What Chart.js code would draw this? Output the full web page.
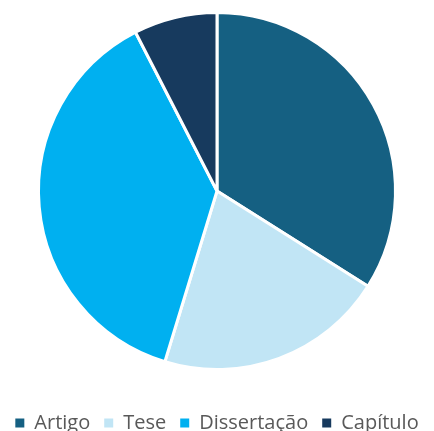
<!DOCTYPE html>
<html>
<head>
<meta charset="utf-8">
<script src="https://cdn.jsdelivr.net/npm/chart.js@4"></script>
<style>
  html, body { margin: 0; padding: 0; background: #ffffff; }
  #wrap { width: 434px; height: 431px; }
</style>
</head>
<body>
<div id="wrap"><canvas id="c" width="434" height="431"></canvas></div>
<script>
const categories = ["Artigo", "Tese", "Dissertação", "Capítulo"];
const values = [18, 11, 20, 4];
const colors = ["#156082", "#c1e5f5", "#00b0f0", "#173a5e"];

const LEGEND_HEIGHT = 60;
const LEGEND_SHIFT = 28;

const legendPlacer = {
  id: 'legendPlacer',
  beforeLayout(chart) {
    const lg = chart.legend;
    if (lg && !lg._fixedFit) {
      const orig = lg.fit;
      lg.fit = function () { orig.call(this); this.height = LEGEND_HEIGHT; };
      lg._fixedFit = true;
    }
  },
  afterLayout(chart) {
    const lg = chart.legend;
    if (lg) { lg.top += LEGEND_SHIFT; lg.bottom += LEGEND_SHIFT; }
  }
};

new Chart(document.getElementById('c'), {
  type: 'pie',
  data: {
    labels: categories,
    datasets: [{
      data: values,
      backgroundColor: colors,
      borderColor: '#ffffff',
      borderWidth: 3,
      hoverOffset: 0
    }]
  },
  options: {
    responsive: false,
    animation: false,
    layout: { padding: { top: 11, bottom: 0, left: 0, right: 0 } },
    plugins: {
      tooltip: { enabled: false },
      legend: {
        position: 'bottom',
        labels: {
          color: '#595959',
          font: { family: 'Open Sans', size: 20 },
          boxWidth: 9,
          boxHeight: 9,
          padding: 14,
          generateLabels(chart) {
            const items = Chart.overrides.pie.plugins.legend.labels.generateLabels(chart);
            items.forEach(it => { it.lineWidth = 0; it.strokeStyle = it.fillStyle; });
            return items;
          }
        }
      }
    }
  },
  plugins: [legendPlacer]
});
</script>
</body>
</html>
